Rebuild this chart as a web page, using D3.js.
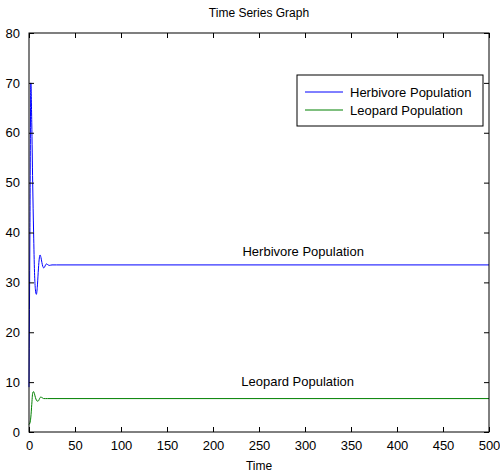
<!DOCTYPE html>
<html>
<head>
<meta charset="utf-8">
<script src="https://cdn.jsdelivr.net/npm/d3@7"></script>
<style>
  body { margin: 0; background: #fff; }
  text { font-family: "Liberation Sans", Arial, sans-serif; }
</style>
</head>
<body>
<script>
// values
var herbTime = [0, 1, 2, 3, 4, 5, 6, 7, 8, 9, 10, 11, 12, 13, 14, 15, 16, 17, 18, 19, 20, 22, 25, 30, 500];
var herbPop  = [9, 40, 70, 62, 50, 40, 32, 28.5, 27.6, 29, 32, 34.5, 35.5, 35, 34, 33.2, 32.9, 33.1, 33.5, 33.7, 33.6, 33.4, 33.5, 33.5, 33.5];
var leopTime = [0, 1, 2, 3, 4, 5, 6, 7, 8, 9, 10, 11, 12, 13, 14, 15, 16, 18, 20, 25, 500];
var leopPop  = [1.5, 1.8, 3, 5.5, 7.8, 8.1, 7.6, 6.9, 6.4, 6.2, 6.2, 6.5, 6.9, 7.0, 6.9, 6.8, 6.7, 6.7, 6.7, 6.7, 6.7];
var xTicks = [0, 50, 100, 150, 200, 250, 300, 350, 400, 450, 500];
var yTicks = [0, 10, 20, 30, 40, 50, 60, 70, 80];
var seriesNames = ["Herbivore Population", "Leopard Population"];
var seriesColors = ["#0000ff", "#008000"];
// in-plot text labels (time, population)
var labelPos = [[298, 35.3], [292, 9.2]];

var margin = {top: 33, right: 11, bottom: 42, left: 29},
    width = 500 - margin.left - margin.right,
    height = 474 - margin.top - margin.bottom;

var svg = d3.select("body").append("svg")
    .attr("width", 500)
    .attr("height", 474);

var g = svg.append("g")
    .attr("transform", "translate(" + margin.left + "," + margin.top + ")");

var x = d3.scaleLinear().domain([0, 500]).range([0, width]);
var y = d3.scaleLinear().domain([0, 80]).range([height, 0]);

var series = [
  herbTime.map(function(t, i) { return [t, herbPop[i]]; }),
  leopTime.map(function(t, i) { return [t, leopPop[i]]; })
];

var line = d3.line()
    .x(function(d) { return x(d[0]); })
    .y(function(d) { return y(d[1]); })
    .curve(d3.curveMonotoneX);

g.selectAll(".series")
    .data(series)
  .enter().append("path")
    .attr("class", "series")
    .attr("fill", "none")
    .attr("stroke", function(d, i) { return seriesColors[i]; })
    .attr("stroke-width", 1)
    .attr("d", line);

// axes, ticks pointing inward like matlab
var fontSize = "13px";
function styleAxis(sel) {
  sel.select(".domain").remove();
  sel.selectAll("line").attr("stroke", "#000");
  sel.selectAll("text").attr("font-size", fontSize).attr("fill", "#000")
     .style("font-family", "Liberation Sans, Arial, sans-serif");
}

g.append("g")
    .attr("transform", "translate(0," + height + ")")
    .call(d3.axisBottom(x).tickValues(xTicks).tickSize(-5).tickPadding(9))
    .call(styleAxis);

g.append("g")
    .call(d3.axisLeft(y).tickValues(yTicks).tickSize(-5).tickPadding(9))
    .call(styleAxis);

g.append("g")
    .call(d3.axisTop(x).tickValues(xTicks).tickSize(-5).tickFormat(""))
    .call(styleAxis);

g.append("g")
    .attr("transform", "translate(" + width + ",0)")
    .call(d3.axisRight(y).tickValues(yTicks).tickSize(-5).tickFormat(""))
    .call(styleAxis);

g.append("rect")
    .attr("x", 0).attr("y", 0)
    .attr("width", width).attr("height", height)
    .attr("fill", "none")
    .attr("stroke", "#000")
    .attr("stroke-width", 1);

// title and axis label
svg.append("text")
    .attr("x", margin.left + width / 2)
    .attr("y", 17)
    .attr("text-anchor", "middle")
    .attr("font-size", "12px")
    .text("Time Series Graph");

svg.append("text")
    .attr("x", margin.left + width / 2)
    .attr("y", 470)
    .attr("text-anchor", "middle")
    .attr("font-size", "12px")
    .text("Time");

// text labels in the plot
g.selectAll(".lbl")
    .data(seriesNames)
  .enter().append("text")
    .attr("class", "lbl")
    .attr("x", function(d, i) { return x(labelPos[i][0]); })
    .attr("y", function(d, i) { return y(labelPos[i][1]); })
    .attr("text-anchor", "middle")
    .attr("font-size", fontSize)
    .text(function(d) { return d; });

// legend
var legend = svg.append("g").attr("transform", "translate(297,75)");
legend.append("rect")
    .attr("width", 186).attr("height", 51)
    .attr("fill", "#fff").attr("stroke", "#000");

var item = legend.selectAll(".item")
    .data(seriesNames)
  .enter().append("g")
    .attr("class", "item")
    .attr("transform", function(d, i) { return "translate(0," + (17 + i * 18) + ")"; });

item.append("line")
    .attr("x1", 8).attr("x2", 46)
    .attr("stroke", function(d, i) { return seriesColors[i]; });

item.append("text")
    .attr("x", 53)
    .attr("dy", "0.35em")
    .attr("font-size", fontSize)
    .text(function(d) { return d; });
</script>
</body>
</html>
